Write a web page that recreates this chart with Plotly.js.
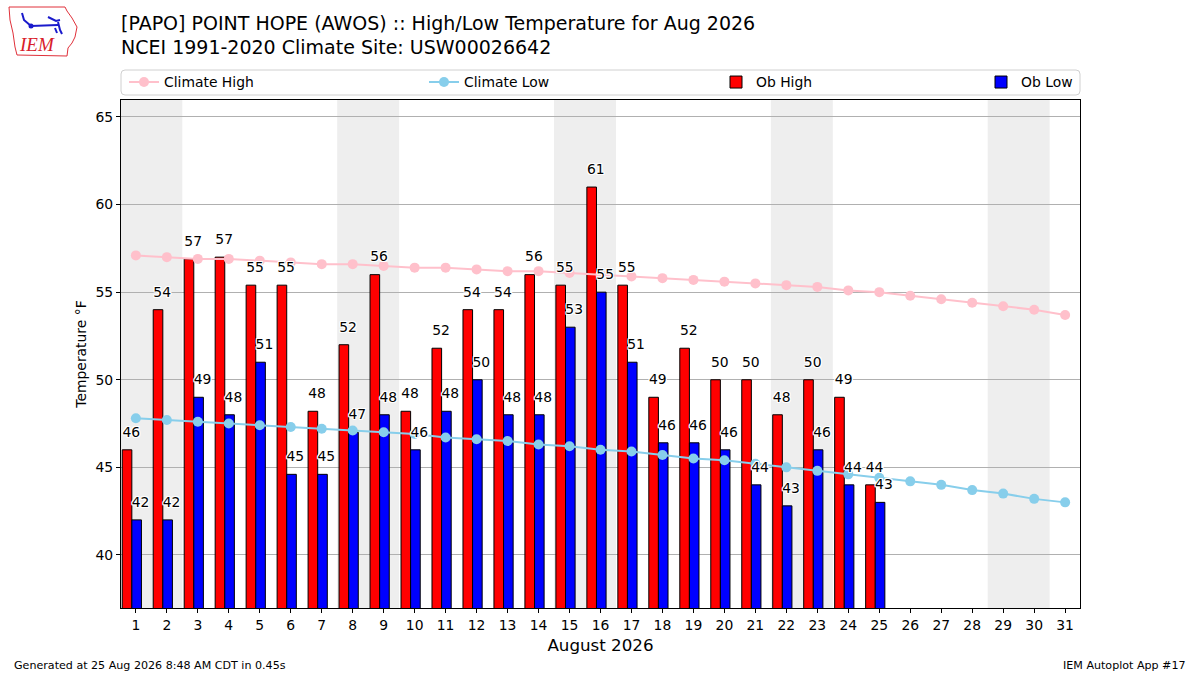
<!DOCTYPE html>
<html>
<head>
<meta charset="utf-8">
<script src="https://cdn.plot.ly/plotly-3.0.1.min.js"></script>
<style>html,body{margin:0;padding:0;background:#fff;}#chart{width:1200px;height:675px;}</style>
</head>
<body>
<div id="chart"></div>
<script>
// ---- data ----
const days = [1,2,3,4,5,6,7,8,9,10,11,12,13,14,15,16,17,18,19,20,21,22,23,24,25,26,27,28,29,30,31];
const obDays = days.slice(0, 25);
const obHigh = [46.0,54.0,56.9,57.0,55.4,55.4,48.2,52.0,56.0,48.2,51.8,54.0,54.0,56.0,55.4,61.0,55.4,49.0,51.8,50.0,50.0,48.0,50.0,49.0,44.0];
const obLow  = [42.0,42.0,49.0,48.0,51.0,44.6,44.6,47.0,48.0,46.0,48.2,50.0,48.0,48.0,53.0,55.0,51.0,46.4,46.4,46.0,44.0,42.8,46.0,44.0,43.0];
const climateHigh = [57.1,57.0,56.9,56.9,56.8,56.7,56.6,56.6,56.5,56.4,56.4,56.3,56.2,56.2,56.1,56.0,55.9,55.8,55.7,55.6,55.5,55.4,55.3,55.1,55.0,54.8,54.6,54.4,54.2,54.0,53.7];
const climateLow  = [47.8,47.7,47.6,47.5,47.4,47.3,47.2,47.1,47.0,46.9,46.7,46.6,46.5,46.3,46.2,46.0,45.9,45.7,45.5,45.4,45.2,45.0,44.8,44.6,44.4,44.2,44.0,43.7,43.5,43.2,43.0];
const weekendDays = [1,2,8,9,15,16,22,23,29,30];
const yTicks = [40,45,50,55,60,65];

const FONT = "DejaVu Sans, Liberation Sans, sans-serif";
const FS = 13.9;
const halo = "1px 1px 0 #fff, -1px -1px 0 #fff, 1px -1px 0 #fff, -1px 1px 0 #fff, 0 1px 0 #fff, 0 -1px 0 #fff, 1px 0 0 #fff, -1px 0 0 #fff";

const traces = [
  {type:'bar', name:'Ob High', x:obDays, y:obHigh, offset:-0.44, width:0.31,
   marker:{color:'#ff0000', line:{color:'#000', width:1}}, legend:'legend3', hoverinfo:'x+y'},
  {type:'bar', name:'Ob Low', x:obDays, y:obLow, offset:-0.13, width:0.31,
   marker:{color:'#0000ff', line:{color:'#000', width:1}}, legend:'legend4', hoverinfo:'x+y'},
  {type:'scatter', mode:'lines+markers', name:'Climate High', x:days, y:climateHigh,
   line:{color:'#ffc0cb', width:2}, marker:{color:'#ffc0cb', size:10}, legend:'legend'},
  {type:'scatter', mode:'lines+markers', name:'Climate Low', x:days, y:climateLow,
   line:{color:'#87ceeb', width:2}, marker:{color:'#87ceeb', size:10}, legend:'legend2'},
  {type:'scatter', mode:'text', x:obDays.map(d=>d-0.15), y:obHigh.map(v=>v+0.95),
   text:obHigh.map(v=>String(Math.round(v))), textposition:'middle center',
   textfont:{family:FONT, size:FS, color:'#000', shadow:halo}, showlegend:false, hoverinfo:'skip'},
  {type:'scatter', mode:'text', x:obDays.map(d=>d+0.15), y:obLow.map(v=>v+0.95),
   text:obLow.map(v=>String(Math.round(v))), textposition:'middle center',
   textfont:{family:FONT, size:FS, color:'#000', shadow:halo}, showlegend:false, hoverinfo:'skip'}
];

// pixel->paper helpers for decorations outside the plot area
const L=121, R=1080, T=100, B=608;
const px = v => (v-L)/(R-L);
const py = v => (B-v)/(B-T);

// weekend shading: merge consecutive days into one band
const shapes = [];
let runStart = null, prev = null;
weekendDays.concat([null]).forEach(d => {
  if (d !== null && prev !== null && d === prev + 1) { prev = d; return; }
  if (runStart !== null) {
    shapes.push({type:'rect', xref:'x', yref:'paper', x0:runStart-0.5, x1:prev+0.5, y0:0, y1:1,
      fillcolor:'#eeeeee', line:{width:0}, layer:'below'});
  }
  runStart = d; prev = d;
});

// legend frame (rounded)
(function(){
  const x0=px(121), x1=px(1080), y0=py(95), y1=py(70);
  const rx=4/(R-L), ry=4/(B-T);
  shapes.push({type:'path', xref:'paper', yref:'paper',
    path:`M${x0+rx},${y0} L${x1-rx},${y0} Q${x1},${y0} ${x1},${y0+ry} L${x1},${y1-ry} Q${x1},${y1} ${x1-rx},${y1} L${x0+rx},${y1} Q${x0},${y1} ${x0},${y1-ry} L${x0},${y0+ry} Q${x0},${y0} ${x0+rx},${y0} Z`,
    line:{color:'#d0d0d0', width:1}, fillcolor:'rgba(255,255,255,0.8)', layer:'above'});
})();

// IEM logo outline (approximate Iowa shape)
(function(){
  const pts=[[9,7],[65,7],[67,11],[72,18],[77,27],[75,37],[72,43],[68,48],[67,56],[17,55],[15,47],[13,33],[10,20]];
  let p='M'+pts.map(q=>px(q[0])+','+py(q[1])).join(' L')+' Z';
  shapes.push({type:'path', xref:'paper', yref:'paper', path:p, line:{color:'#e0303a', width:1}, fillcolor:'rgba(0,0,0,0)'});
  const blue=[[[22,13],[24,20],[31,26],[58,25]],[[48,17],[56,21],[60,20]],[[58,22],[60,30],[62,34]],[[55,28],[57,33]]];
  blue.forEach(seg=>{
    shapes.push({type:'path', xref:'paper', yref:'paper', path:'M'+seg.map(q=>px(q[0])+','+py(q[1])).join(' L'), line:{color:'#1a1acc', width:2}});
  });
  shapes.push({type:'circle', xref:'paper', yref:'paper', x0:px(28.5), x1:px(33.5), y0:py(28.5), y1:py(23.5), fillcolor:'#1a1acc', line:{width:0}});
})();

const legendBase = {orientation:'h', yanchor:'middle', y:py(82.5), xanchor:'left', bgcolor:'rgba(0,0,0,0)',
  borderwidth:0, font:{family:FONT, size:FS, color:'#000'}};

const layout = {
  width:1200, height:675,
  margin:{l:L, r:1200-R, t:T, b:675-B, pad:0},
  paper_bgcolor:'#fff', plot_bgcolor:'rgba(0,0,0,0)',
  font:{family:FONT, color:'#000'},
  barmode:'overlay',
  title:{text:'[PAPO] POINT HOPE (AWOS) :: High/Low Temperature for Aug 2026<br>NCEI 1991-2020 Climate Site: USW00026642',
    font:{family:FONT, size:19, color:'#000'}, xref:'paper', x:0, xanchor:'left', yref:'container', y:1-29.5/675, yanchor:'middle', align:'left'},
  xaxis:{range:[0.52,31.48], tickmode:'array', tickvals:days, ticktext:days.map(String),
    showgrid:false, zeroline:false, showline:true, linecolor:'#000', linewidth:1, mirror:true,
    ticks:'outside', ticklen:4, tickcolor:'#000', tickfont:{family:FONT, size:FS},
    title:{text:'August 2026', font:{family:FONT, size:16.7}, standoff:7}},
  yaxis:{range:[36.97,65.97], tickmode:'array', tickvals:yTicks, ticktext:yTicks.map(String),
    showgrid:true, gridcolor:'#b0b0b0', gridwidth:1, zeroline:false, showline:true, linecolor:'#000', linewidth:1, mirror:true,
    ticks:'outside', ticklen:4, tickcolor:'#000', tickfont:{family:FONT, size:FS},
    title:{text:'Temperature °F', font:{family:FONT, size:FS}, standoff:5}},
  legend: Object.assign({}, legendBase, {x:px(124)}),
  legend2: Object.assign({}, legendBase, {x:px(424)}),
  legend3: Object.assign({}, legendBase, {x:px(716)}),
  legend4: Object.assign({}, legendBase, {x:px(981)}),
  shapes: shapes,
  annotations:[
    {text:'IEM', xref:'paper', yref:'paper', x:px(37), y:py(45), xanchor:'center', yanchor:'middle', showarrow:false,
     font:{family:'Liberation Serif, serif', size:19, color:'#d8202a', style:'italic'}},
    {text:'Generated at 25 Aug 2026 8:48 AM CDT in 0.45s', xref:'paper', yref:'paper', x:px(12), y:py(665),
     xanchor:'left', yanchor:'middle', showarrow:false, font:{family:FONT, size:11.1, color:'#000'}},
    {text:'IEM Autoplot App #17', xref:'paper', yref:'paper', x:px(1188), y:py(665),
     xanchor:'right', yanchor:'middle', showarrow:false, font:{family:FONT, size:11.1, color:'#000'}}
  ],
  showlegend:true
};

Plotly.newPlot('chart', traces, layout, {staticPlot:true, displayModeBar:false});
</script>
</body>
</html>
